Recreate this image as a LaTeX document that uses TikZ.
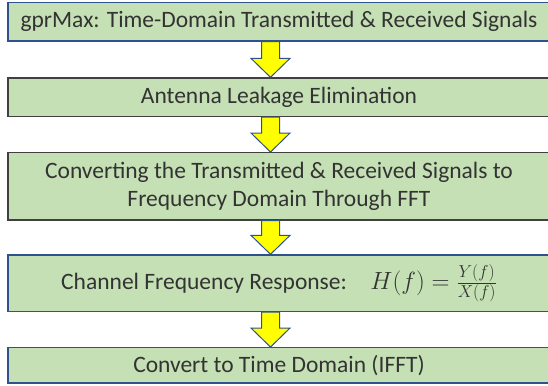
\documentclass[tikz,border=0pt]{standalone}
\usepackage{amsmath}
\usepackage{fontspec}
\setmainfont{Carlito}
\usetikzlibrary{calc}
\definecolor{boxfill}{RGB}{197,224,180}
\definecolor{boxblue}{RGB}{47,82,143}
\definecolor{boxgrey}{RGB}{64,64,64}
\definecolor{arrfill}{RGB}{255,255,0}
\tikzset{
  stepbox/.style={draw=boxblue, fill=boxfill, line width=1.2pt,
    minimum width=542pt, inner sep=0pt, align=center, text=black!80,
    font=\fontsize{23.5}{28}\selectfont},
  blockarr/.style={draw=boxblue, fill=arrfill, line width=1pt, line join=miter}
}

\begin{document}
\begin{tikzpicture}[x=1pt,y=1pt]
  \useasboundingbox (0,0) rectangle (548,385);
  \node[stepbox, minimum height=38.5pt] (t1) at (279,363.25)
    {gprMax: Time-Domain Transmitted \& Received Signals};
  \node[stepbox, draw=boxgrey, minimum height=38.7pt] (t2) at (279,287.7)
    {Antenna Leakage Elimination};
  \node[stepbox, draw=boxgrey, minimum height=67.3pt] (t3) at (279,198.7)
    {Converting the Transmitted \& Received Signals to\\Frequency Domain Through FFT};
  \node[stepbox, minimum height=56.7pt] (t4) at (279,101.7)
    {Channel Frequency Response:\quad $H(f)=\frac{Y(f)}{X(f)}$};
  \node[stepbox, minimum height=35.3pt] (t5) at (279,19.7)
    {Convert to Time Domain (IFFT)};
  % yellow block arrows between the steps
  \foreach \a/\b in {t1/t2,t2/t3,t3/t4,t4/t5}{
    \draw[blockarr] let \p1=(\a.south), \p2=(\b.north) in
      (261.5,\y1) -- (279.5,\y1) -- (279.5,\y2+19) -- (290,\y2+19)
      -- (270.5,\y2) -- (251,\y2+19) -- (261.5,\y2+19) -- cycle;}
\end{tikzpicture}
\end{document}
